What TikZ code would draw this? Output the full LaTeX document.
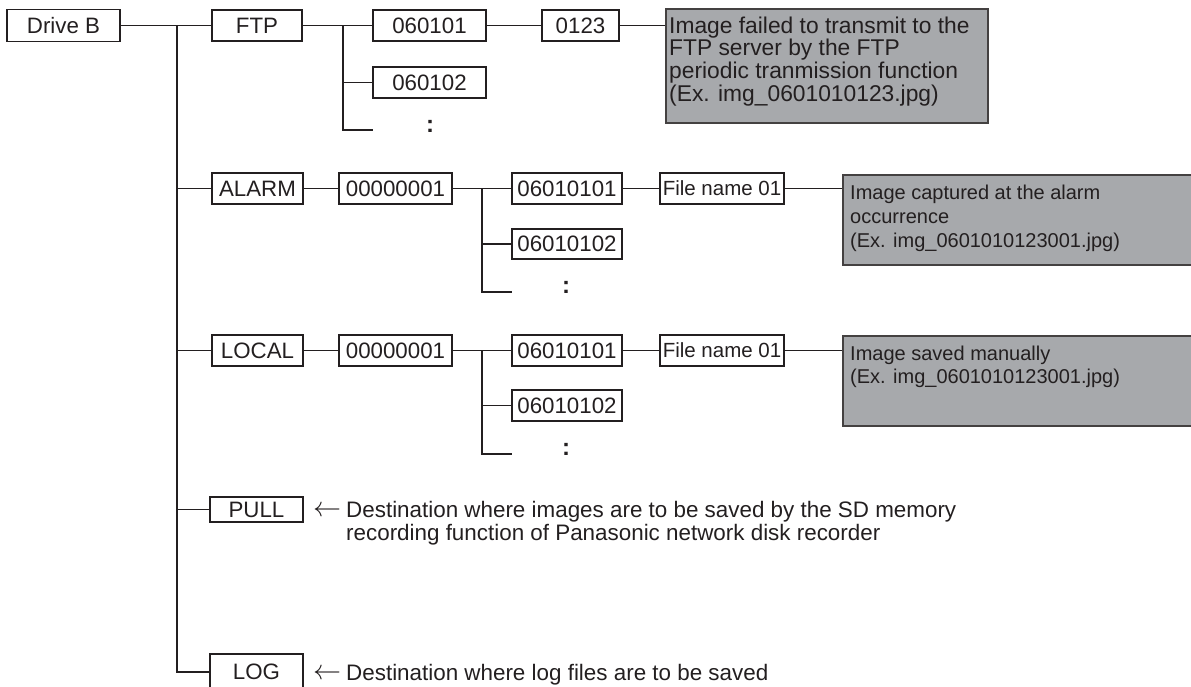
\documentclass[tikz,border=0pt]{standalone}
\usepackage{fontspec}
\usepackage{graphicx}
\setmainfont{Liberation Sans}
\definecolor{ink}{RGB}{35,31,32}
\definecolor{panel}{RGB}{167,169,172}
\newcommand{\larr}{\makebox[33pt][l]{\raisebox{1pt}{\scalebox{1.35}{$\leftarrow$}}}}
\begin{document}
\begin{tikzpicture}[x=1pt,y=-1pt,
  every node/.style={text=ink},
  bx/.style={draw=ink,line width=1.4pt,inner sep=0pt,font=\fontsize{22.3}{24}\selectfont},
  wire/.style={draw=ink,line width=1.4pt},
  panelbox/.style={draw=ink!85,fill=panel,line width=1.5pt,inner sep=0pt,anchor=north west},
  paneltext/.style={anchor=base west,align=left,inner sep=0pt},
  note/.style={anchor=base west,align=left,inner sep=0pt,font=\fontsize{22.4}{23}\selectfont},
  dots/.style={font=\fontsize{24}{24}\selectfont\bfseries,inner sep=0pt}]
\useasboundingbox (0,0) rectangle (1191,686);
\clip (0,0) rectangle (1191,686);

% main boxes
\node[bx,minimum width=113pt,minimum height=32pt] (drive) at (63.5,25.5) {Drive B};
\node[bx,minimum width=90pt,minimum height=31pt] (ftp) at (257,25.5) {FTP};
\node[bx,minimum width=91pt,minimum height=31pt] (alarm) at (257.5,188.5) {ALARM};
\node[bx,minimum width=91pt,minimum height=31pt] (local) at (257.5,350.5) {LOCAL};
\node[bx,minimum width=93pt,minimum height=25pt] (pull) at (256.5,509.5) {PULL};
\node[bx,minimum width=93pt,minimum height=36pt] (log) at (256.5,672) {LOG};

% FTP subtree
\node[bx,minimum width=113pt,minimum height=31pt] (f1) at (429.5,25.5) {060101};
\node[bx,minimum width=113pt,minimum height=31pt] (f2) at (429.5,82.5) {060102};
\node[bx,minimum width=77pt,minimum height=31pt] (f3) at (580.5,25.5) {0123};
\node[dots] (fd) at (430,126) {:};
\node[panelbox,minimum width=322pt,minimum height=114pt] (p1) at (665,8) {};
\node[paneltext,font=\fontsize{22.8}{22.7}\selectfont] (p1t) at (669,101.1)
  {Image failed to transmit to the\\FTP server by the FTP\\periodic tranmission function\\(Ex. img\_0601010123.jpg)};

% ALARM subtree
\node[bx,minimum width=113pt,minimum height=31pt] (a1) at (395.5,188.5) {00000001};
\node[bx,minimum width=110pt,minimum height=31pt] (a2) at (567,188.5) {06010101};
\node[bx,minimum width=110pt,minimum height=30pt] (a3) at (567,244) {06010102};
\node[dots] (ad) at (566,287) {:};
\node[bx,minimum width=124pt,minimum height=31pt,font=\fontsize{20.5}{24}\selectfont] (a4) at (722,188.5) {File name 01};
\node[panelbox,minimum width=360pt,minimum height=90pt] (p2) at (842,174) {};
\node[paneltext,font=\fontsize{20}{24}\selectfont] (p2t) at (850,247)
  {Image captured at the alarm\\occurrence\\(Ex. img\_0601010123001.jpg)};

% LOCAL subtree
\node[bx,minimum width=113pt,minimum height=31pt] (l1) at (395.5,350.5) {00000001};
\node[bx,minimum width=110pt,minimum height=31pt] (l2) at (567,350.5) {06010101};
\node[bx,minimum width=110pt,minimum height=31pt] (l3) at (567,405.5) {06010102};
\node[dots] (ld) at (566,449) {:};
\node[bx,minimum width=124pt,minimum height=31pt,font=\fontsize{20.5}{24}\selectfont] (l4) at (722,350.5) {File name 01};
\node[panelbox,minimum width=360pt,minimum height=90pt] (p3) at (842,335) {};
\node[paneltext,font=\fontsize{20}{23}\selectfont] (p3t) at (850,383)
  {Image saved manually\\(Ex. img\_0601010123001.jpg)};

% notes
\node[note] (pn) at (313,540)
  {\larr Destination where images are to be saved by the SD memory\\\hspace*{33pt}recording function of Panasonic network disk recorder};
\node[note] (ln) at (313,680)
  {\larr Destination where log files are to be saved};

% trunk
\coordinate (t) at (177,25.5);
\draw[wire] (drive.east) -- (ftp.west);
\draw[wire] (t) |- (log.west);
\draw[wire] (t |- alarm.west) -- (alarm.west);
\draw[wire] (t |- local.west) -- (local.west);
\draw[wire] (t |- pull.west) -- (pull.west);

% FTP wires
\coordinate (fs) at (343,25.5);
\coordinate (fe) at (373,130);
\draw[wire] (ftp.east) -- (f1.west);
\draw[wire] (fs) |- (fe);
\draw[wire] (fs |- f2.west) -- (f2.west);
\draw[wire] (f1.east) -- (f3.west);
\draw[wire] (f3.east) -- (f3.east -| p1.west);

% ALARM wires
\coordinate (as) at (482,188.5);
\coordinate (ae) at (512,292);
\draw[wire] (alarm.east) -- (a1.west);
\draw[wire] (a1.east) -- (a2.west);
\draw[wire] (as) |- (ae);
\draw[wire] (as |- a3.west) -- (a3.west);
\draw[wire] (a2.east) -- (a4.west);
\draw[wire] (a4.east) -- (a4.east -| p2.west);

% LOCAL wires
\coordinate (ls) at (482,350.5);
\coordinate (le) at (512,454);
\draw[wire] (local.east) -- (l1.west);
\draw[wire] (l1.east) -- (l2.west);
\draw[wire] (ls) |- (le);
\draw[wire] (ls |- l3.west) -- (l3.west);
\draw[wire] (l2.east) -- (l4.west);
\draw[wire] (l4.east) -- (l4.east -| p3.west);
\end{tikzpicture}
\end{document}
